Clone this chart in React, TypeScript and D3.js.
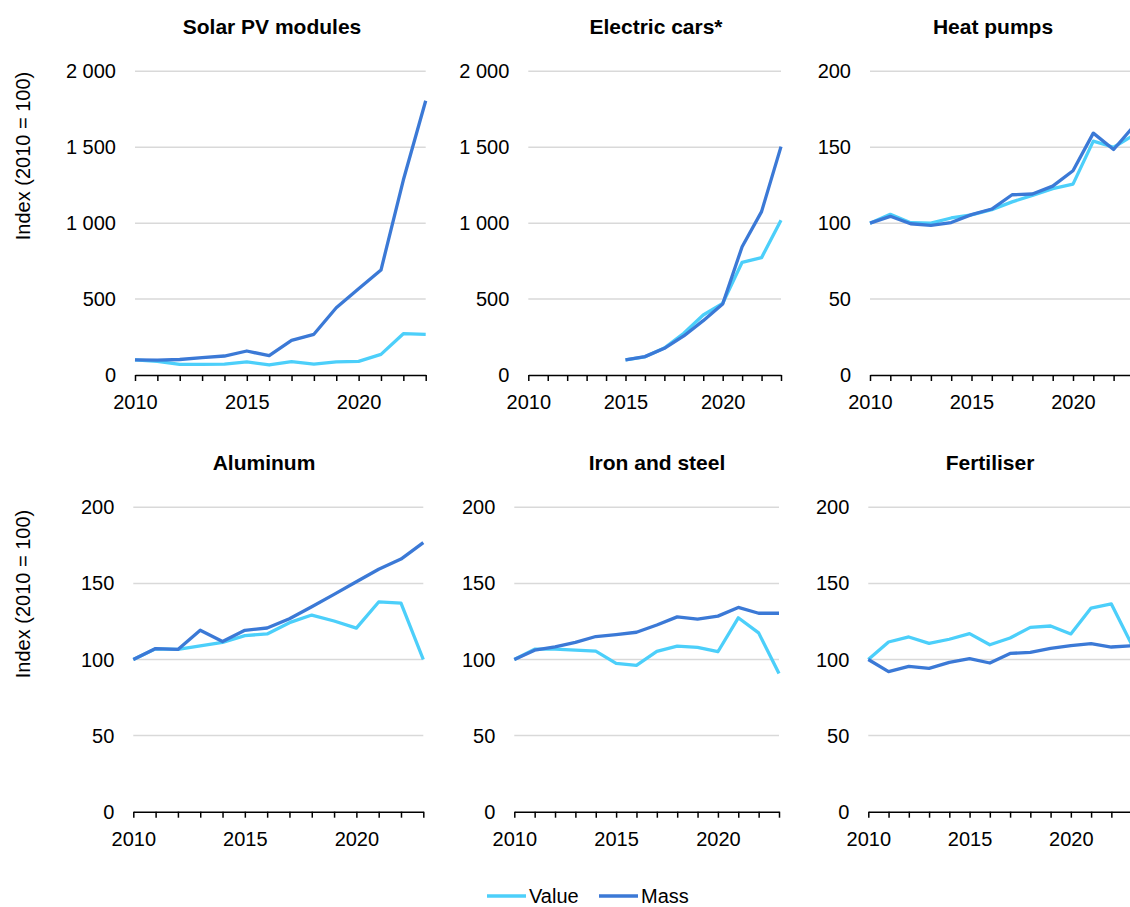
import { useEffect, useRef } from "react";
import * as d3 from "d3";

// years on the x axis
const years = [2010, 2011, 2012, 2013, 2014, 2015, 2016, 2017, 2018, 2019, 2020, 2021, 2022, 2023];
const yearLabels = [2010, 2015, 2020];

// index values (2010 = 100)
const solarValue = [100, 90, 70, 70, 72, 86, 66, 88, 72, 86, 90, 136, 272, 268];
const solarMass = [100, 98, 102, 114, 125, 158, 127, 228, 268, 443, 568, 691, 1284, 1806];

const carsValue = [null, null, null, null, null, 100, 120, 178, 275, 395, 472, 742, 773, 1019];
const carsMass = [null, null, null, null, null, 100, 121, 176, 257, 358, 468, 845, 1076, 1504];

const heatValue = [100, 105.8, 100.3, 100, 103.4, 105.4, 108.9, 114, 118.3, 122.7, 125.7, 154, 150, 158];
const heatMass = [100, 104.5, 99.6, 98.6, 100.4, 105.6, 109.3, 118.7, 119.2, 124.4, 134.5, 159.3, 148.5, 164];

const aluValue = [100, 107, 106.6, 109, 111.2, 115.7, 116.8, 124.2, 129.2, 125.3, 120.6, 137.8, 137.1, 100];
const aluMass = [100, 107.2, 106.6, 119.2, 111.8, 119.2, 120.7, 126.8, 134.7, 142.8, 151.1, 159.3, 166, 176.8];

const steelValue = [100, 106.8, 106.8, 106.1, 105.5, 97.4, 96.1, 105.3, 108.8, 107.9, 105.1, 127.4, 117.5, 90.8];
const steelMass = [100, 106.1, 108.3, 111.2, 115.1, 116.4, 117.9, 122.7, 128, 126.5, 128.5, 134.2, 130.4, 130.4];

const fertValue = [100, 111.5, 114.8, 110.6, 113.3, 117, 109.7, 114.1, 121.1, 122, 116.8, 133.8, 136.5, 110];
const fertMass = [100, 92, 95.5, 94.2, 98.1, 100.5, 97.7, 104, 104.7, 107.3, 109.1, 110.4, 108.2, 109];

const titles = ["Solar PV modules", "Electric cars*", "Heat pumps", "Aluminum", "Iron and steel", "Fertiliser"];
const bigTicks = [0, 500, 1000, 1500, 2000];
const smallTicks = [0, 50, 100, 150, 200];

const seriesNames = ["Value", "Mass"];
const colors = ["#4ccffa", "#3b79d6"];

const FONT = "'Liberation Sans', Arial, Helvetica, sans-serif";

const fmt = d3.formatLocale({ decimal: ".", thousands: "\u00a0", grouping: [3], currency: ["", ""] }).format(",");

const panels = [
  { title: titles[0], value: solarValue, mass: solarMass, ticks: bigTicks, x0: 135, x1: 425.7, top: 71.3, bottom: 375, tx: 272, ty: 34 },
  { title: titles[1], value: carsValue, mass: carsMass, ticks: bigTicks, x0: 528.3, x1: 781, top: 71.3, bottom: 375, tx: 656, ty: 34 },
  { title: titles[2], value: heatValue, mass: heatMass, ticks: smallTicks, x0: 870, x1: 1133.9, top: 71.3, bottom: 375, tx: 993, ty: 34 },
  { title: titles[3], value: aluValue, mass: aluMass, ticks: smallTicks, x0: 133.3, x1: 423.3, top: 507.3, bottom: 811.7, tx: 264, ty: 470 },
  { title: titles[4], value: steelValue, mass: steelMass, ticks: smallTicks, x0: 514.3, x1: 779, top: 507.3, bottom: 811.7, tx: 657, ty: 470 },
  { title: titles[5], value: fertValue, mass: fertMass, ticks: smallTicks, x0: 868.3, x1: 1131.6, top: 507.3, bottom: 811.7, tx: 990, ty: 470 },
];

export default function App() {
  const svgRef = useRef<SVGSVGElement>(null);

  useEffect(() => {
    if (!svgRef.current) return;
    const svg = d3.select(svgRef.current);
    svg.selectAll("*").remove();

    panels.forEach((p) => {
      const g = svg.append("g");
      const ymax = p.ticks[p.ticks.length - 1];
      const x = d3.scaleLinear().domain([2010, 2023]).range([p.x0, p.x1]);
      const y = d3.scaleLinear().domain([0, ymax]).range([p.bottom, p.top]);

      // gridlines
      g.selectAll("line.grid")
        .data(p.ticks.filter((t) => t > 0))
        .join("line")
        .attr("x1", p.x0)
        .attr("x2", p.x1)
        .attr("y1", (d) => y(d))
        .attr("y2", (d) => y(d))
        .attr("stroke", "#d9d9d9")
        .attr("stroke-width", 1.5);

      // y tick labels
      g.selectAll("text.ytick")
        .data(p.ticks)
        .join("text")
        .attr("x", p.x0 - 19)
        .attr("y", (d) => y(d))
        .attr("dy", "0.35em")
        .attr("text-anchor", "end")
        .attr("font-family", FONT)
        .attr("font-size", 20)
        .attr("fill", "#000")
        .text((d) => fmt(d));

      // x axis
      const axis = d3
        .axisBottom(x)
        .tickValues(years)
        .tickSize(6)
        .tickSizeOuter(0)
        .tickPadding(14)
        .tickFormat((d) => (yearLabels.includes(d as number) ? String(d) : ""));
      const ax = g.append("g").attr("transform", `translate(0,${p.bottom})`).call(axis);
      ax.select(".domain").attr("stroke", "#000").attr("stroke-width", 1.5);
      ax.selectAll(".tick line").attr("stroke", "#000").attr("stroke-width", 1.5);
      ax.selectAll(".tick text").attr("font-family", FONT).attr("font-size", 20).attr("fill", "#000");

      // lines
      const line = d3
        .line<number | null>()
        .defined((d) => d !== null)
        .x((_, i) => x(years[i]))
        .y((d) => y(d as number));
      [p.value, p.mass].forEach((s, si) => {
        g.append("path")
          .datum(s)
          .attr("d", line)
          .attr("fill", "none")
          .attr("stroke", colors[si])
          .attr("stroke-width", 3.3)
          .attr("stroke-linejoin", "round");
      });

      // title
      g.append("text")
        .attr("x", p.tx)
        .attr("y", p.ty)
        .attr("text-anchor", "middle")
        .attr("font-family", FONT)
        .attr("font-size", 21)
        .attr("font-weight", "bold")
        .attr("fill", "#000")
        .text(p.title);
    });

    // y axis titles
    [156, 594].forEach((cy) => {
      svg
        .append("text")
        .attr("transform", `translate(30,${cy}) rotate(-90)`)
        .attr("text-anchor", "middle")
        .attr("font-family", FONT)
        .attr("font-size", 20)
        .attr("fill", "#000")
        .text("Index (2010 = 100)");
    });

    // legend
    const legendX = [487, 599];
    seriesNames.forEach((name, i) => {
      const lg = svg.append("g").attr("transform", `translate(${legendX[i]},896)`);
      lg.append("line").attr("x1", 0).attr("x2", 39).attr("y1", 0).attr("y2", 0).attr("stroke", colors[i]).attr("stroke-width", 3.3);
      lg.append("text")
        .attr("x", 42)
        .attr("y", 0)
        .attr("dy", "0.33em")
        .attr("font-family", FONT)
        .attr("font-size", 20)
        .attr("fill", "#000")
        .text(name);
    });
  }, []);

  return (
    <>
      <style>{`body{margin:0;overflow:hidden}`}</style>
      <svg ref={svgRef} width={1130} height={907} style={{ display: "block", background: "#fff" }} />
    </>
  );
}
